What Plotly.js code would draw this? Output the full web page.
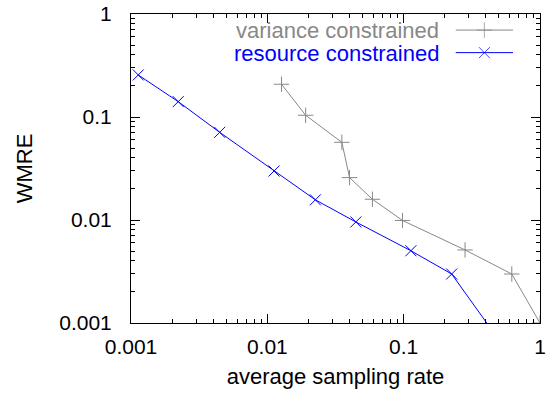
<!DOCTYPE html>
<html>
<head>
<meta charset="utf-8">
<script src="https://cdn.plot.ly/plotly-3.0.1.min.js"></script>
<style>html,body{margin:0;padding:0;background:#fff;}#chart{width:547px;height:395px;}</style>
</head>
<body>
<div id="chart"></div>
<script>
// Series data
const varianceRate = [0.0127, 0.0191, 0.0352, 0.0401, 0.059, 0.098, 0.282, 0.621, 1.0];
const varianceWMRE = [0.208, 0.104, 0.0568, 0.0258, 0.0159, 0.0099, 0.00512, 0.00299, 0.001];
const resourceRate = [0.00113, 0.00222, 0.00447, 0.0112, 0.0225, 0.0446, 0.113, 0.225, 0.45];
const resourceWMRE = [0.256, 0.141, 0.071, 0.0299, 0.0157, 0.00957, 0.00503, 0.00299, 0.00083];
const seriesNames = ["variance constrained", "resource constrained"];
const seriesColors = ["#888888", "#0000ff"];
const tickVals = [0.001, 0.01, 0.1, 1];
const tickText = ["0.001", "0.01", "0.1", "1"];

const FONT = "Liberation Sans, Arial, sans-serif";

const traces = [
  {x: varianceRate, y: varianceWMRE, mode: "lines+markers", name: seriesNames[0],
   line: {color: seriesColors[0], width: 1},
   marker: {symbol: "cross-thin-open", size: 11, line: {color: seriesColors[0], width: 1}},
   cliponaxis: true, showlegend: false},
  {x: resourceRate, y: resourceWMRE, mode: "lines+markers", name: seriesNames[1],
   line: {color: seriesColors[1], width: 1},
   marker: {symbol: "x-thin-open", size: 11, line: {color: seriesColors[1], width: 1}},
   cliponaxis: true, showlegend: false},
  // legend samples (on a hidden overlay axis)
  {x: [0.794, 0.864, 0.934], y: [0.948, 0.948, 0.948], xaxis: "x2", yaxis: "y2",
   mode: "lines+markers", line: {color: seriesColors[0], width: 1},
   marker: {symbol: "cross-thin-open", size: [0, 11, 0], line: {color: seriesColors[0], width: 1}},
   showlegend: false, hoverinfo: "skip"},
  {x: [0.794, 0.864, 0.934], y: [0.875, 0.875, 0.875], xaxis: "x2", yaxis: "y2",
   mode: "lines+markers", line: {color: seriesColors[1], width: 1},
   marker: {symbol: "x-thin-open", size: [0, 11, 0], line: {color: seriesColors[1], width: 1}},
   showlegend: false, hoverinfo: "skip"}
];

const axisCommon = {
  type: "log", range: [-3, 0], showgrid: false, zeroline: false,
  showline: true, linecolor: "#000", linewidth: 1, mirror: "ticks",
  ticks: "inside", ticklen: 9, tickwidth: 1, tickcolor: "#000",
  tickvals: tickVals, ticktext: tickText,
  tickfont: {family: FONT, size: 21, color: "#000"},
  minor: {ticks: "inside", ticklen: 4, tickwidth: 1, tickcolor: "#000", dtick: "D1", showgrid: false}
};

const layout = {
  width: 547, height: 395,
  margin: {l: 131, r: 7, t: 14, b: 72},
  paper_bgcolor: "#fff", plot_bgcolor: "#fff",
  showlegend: false,
  font: {family: FONT, size: 21, color: "#000"},
  xaxis: Object.assign({}, axisCommon, {
    title: {text: "average sampling rate", font: {family: FONT, size: 22, color: "#000"}, standoff: 11},
    ticklabelstandoff: 5
  }),
  yaxis: Object.assign({}, axisCommon, {
    title: {text: "WMRE", font: {family: FONT, size: 22, color: "#000"}, standoff: 20},
    ticklabelstandoff: 14
  }),
  xaxis2: {overlaying: "x", range: [0, 1], visible: false, fixedrange: true},
  yaxis2: {overlaying: "y", range: [0, 1], visible: false, fixedrange: true},
  annotations: [
    {text: seriesNames[0], xref: "paper", yref: "paper", x: 0.7555, y: 0.948,
     xanchor: "right", yanchor: "middle", showarrow: false, height: 22, borderpad: 0,
     font: {family: FONT, size: 22, color: seriesColors[0]}},
    {text: seriesNames[1], xref: "paper", yref: "paper", x: 0.7555, y: 0.875,
     xanchor: "right", yanchor: "middle", showarrow: false, height: 22, borderpad: 0,
     font: {family: FONT, size: 22, color: seriesColors[1]}}
  ]
};

Plotly.newPlot("chart", traces, layout, {staticPlot: true, displayModeBar: false});
</script>
</body>
</html>
